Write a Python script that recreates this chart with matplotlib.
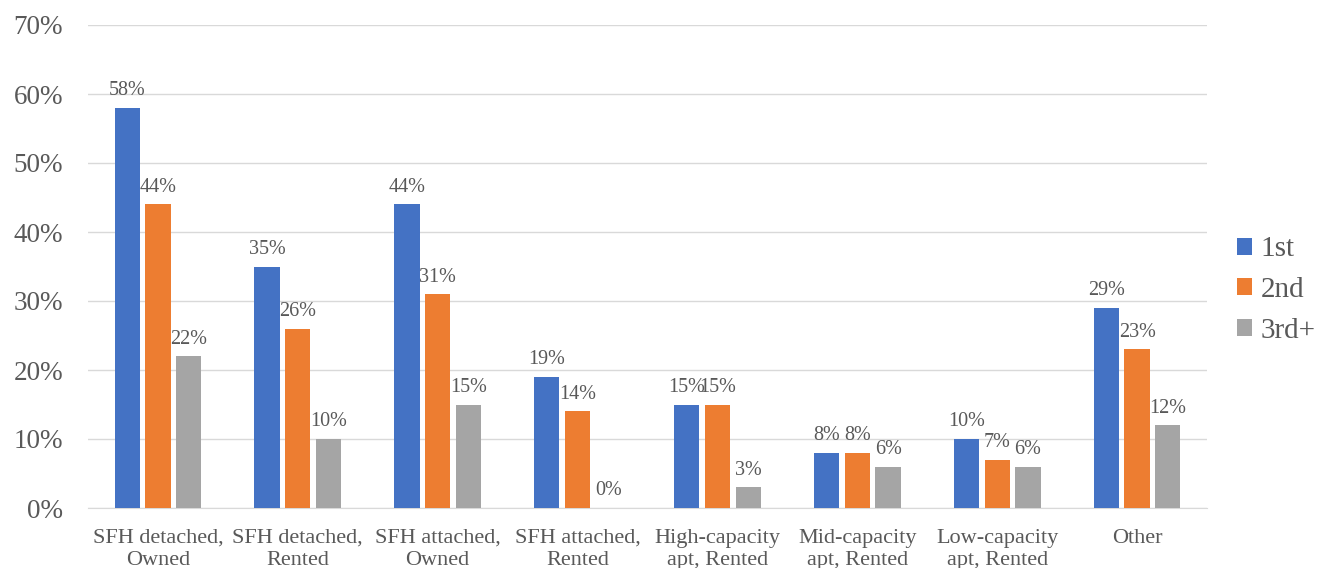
import numpy as np
import matplotlib.pyplot as plt
from matplotlib.ticker import PercentFormatter

plt.rcParams['font.family'] = ['Liberation Serif', 'DejaVu Serif']

# Share of households by dwelling type and order
categories = ['SFH detached,\nOwned', 'SFH detached,\nRented', 'SFH attached,\nOwned',
              'SFH attached,\nRented', 'High-capacity\napt, Rented', 'Mid-capacity\napt, Rented',
              'Low-capacity\napt, Rented', 'Other']
first = [58, 35, 44, 19, 15, 8, 10, 29]
second = [44, 26, 31, 14, 15, 8, 7, 23]
third = [22, 10, 15, 0, 3, 6, 6, 12]
series_names = ['1st', '2nd', '3rd+']
colors = ['#4472C4', '#ED7D31', '#A5A5A5']

text_color = '#595959'

fig = plt.figure(figsize=(13.37, 5.68), dpi=100)
ax = fig.add_axes([88 / 1337, 60 / 568, 1119 / 1337, 483 / 568])

x = np.arange(len(categories))
width = 0.18
offsets = [-0.22, 0, 0.22]

for vals, off, col, name in zip([first, second, third], offsets, colors, series_names):
    bars = ax.bar(x + off, vals, width, color=col, label=name, zorder=3)
    for b, v in zip(bars, vals):
        ax.text(b.get_x() + b.get_width() / 2, v + 1.1, f'{v}%', ha='center', va='bottom',
                fontsize=14.5, color=text_color)

ax.set_xlim(-0.5, len(categories) - 0.5)
ax.set_ylim(0, 70)
ax.set_yticks(range(0, 71, 10))
ax.yaxis.set_major_formatter(PercentFormatter(decimals=0))
ax.grid(axis='y', color='#D9D9D9', linewidth=1, zorder=0)
for s in ['top', 'right', 'left']:
    ax.spines[s].set_visible(False)
ax.spines['bottom'].set_color('#D9D9D9')
ax.set_xticks(x)
ax.set_xticklabels(categories, fontsize=16, color=text_color, linespacing=1.25)
ax.tick_params(axis='y', labelsize=19.5, labelcolor=text_color, length=0, pad=18)
ax.tick_params(axis='x', length=0, pad=15)

leg = ax.legend(loc='center left', bbox_to_anchor=(1237 / 1337, 1 - 290 / 568),
                bbox_transform=fig.transFigure, frameon=False, fontsize=21,
                handlelength=0.52, handleheight=0.52, handletextpad=0.28, labelspacing=0.5,
                borderpad=0, borderaxespad=0)
for t in leg.get_texts():
    t.set_color(text_color)

fig.savefig('out.png', dpi=100)
